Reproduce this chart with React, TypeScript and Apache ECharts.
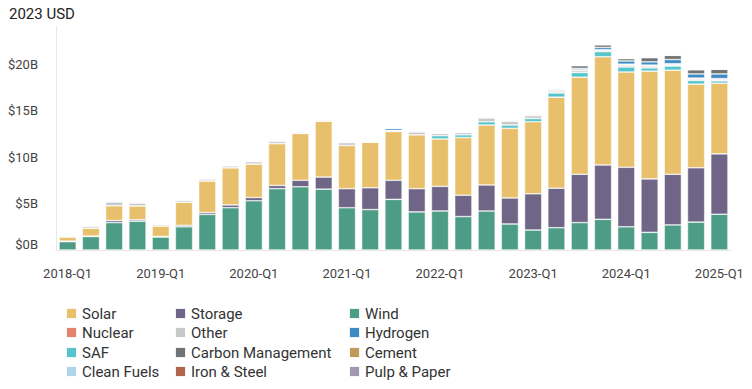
import React, { useEffect, useRef } from "react";
import * as echarts from "echarts";

const quarters = [
  "2018-Q1","2018-Q2","2018-Q3","2018-Q4",
  "2019-Q1","2019-Q2","2019-Q3","2019-Q4",
  "2020-Q1","2020-Q2","2020-Q3","2020-Q4",
  "2021-Q1","2021-Q2","2021-Q3","2021-Q4",
  "2022-Q1","2022-Q2","2022-Q3","2022-Q4",
  "2023-Q1","2023-Q2","2023-Q3","2023-Q4",
  "2024-Q1","2024-Q2","2024-Q3","2024-Q4",
  "2025-Q1",
];

const yTicks = [0, 5, 10, 15, 20];

const wind = [0.9,1.45,2.95,3.1,1.4,2.5,3.83,4.55,5.3,6.6,6.8,6.55,4.55,4.35,5.45,4.1,4.2,3.6,4.2,2.8,2.15,2.4,2.95,3.3,2.5,1.9,2.7,3.0,3.85];
const storage = [0.05,0.05,0.22,0.15,0.06,0.15,0.2,0.3,0.35,0.35,0.7,1.3,2.05,2.35,2.05,2.5,2.65,2.3,2.8,2.8,3.9,4.25,5.2,5.85,6.4,5.75,5.45,5.85,6.5];
const solar = [0.45,0.85,1.6,1.5,1.12,2.5,3.4,4.0,3.6,4.5,5.05,6.0,4.65,4.9,5.25,5.8,5.1,6.2,6.45,7.5,7.75,9.8,10.45,11.65,10.25,11.6,11.2,9.0,7.6];
const saf = [0,0,0,0,0,0,0,0,0,0,0,0,0,0,0,0,0.35,0.3,0.35,0.35,0.35,0.45,0.5,0.55,0.55,0.35,0.45,0.4,0.25];
const other = [0.1,0.2,0.4,0.3,0.15,0.2,0.2,0.2,0.25,0.25,0.12,0.1,0.3,0.08,0.1,0.3,0.25,0.25,0.4,0.4,0.3,0.15,0.2,0.15,0.15,0.15,0.1,0.1,0.1];
const nuclear = [0.05,0.08,0.1,0.1,0.07,0.1,0.08,0.06,0.07,0.1,0.05,0.07,0.08,0.03,0.03,0.07,0.05,0.05,0.1,0.1,0.1,0.1,0.1,0.05,0.1,0.1,0.1,0.1,0.1];
const cleanFuels = [0,0,0,0,0,0,0,0,0,0,0,0,0,0,0,0.05,0,0,0.05,0,0,0,0,0,0.05,0.05,0.05,0.05,0.05];
const hydrogen = [0,0,0,0,0,0,0,0,0,0,0,0,0,0.1,0.25,0.05,0.05,0.05,0.05,0.05,0.05,0.1,0.15,0.25,0.35,0.35,0.45,0.45,0.5];
const carbonManagement = [0,0,0,0,0,0,0,0,0,0,0,0,0,0,0,0,0,0,0,0.05,0.05,0.1,0.3,0.3,0.25,0.45,0.45,0.45,0.5];
const cement = [0,0,0,0,0,0,0,0,0,0,0,0,0,0,0,0,0,0,0,0,0,0,0,0,0.02,0.02,0.02,0.02,0.02];
const ironSteel = [0,0,0,0,0,0,0,0,0,0,0,0,0,0,0,0,0,0,0,0,0,0,0,0,0.02,0.02,0.02,0.02,0.02];
const pulpPaper = [0,0,0,0,0,0,0,0,0,0,0,0,0,0,0,0,0,0,0,0,0,0,0,0,0.02,0.02,0.02,0.02,0.02];

const stackOrder = [
  { name: "Wind", data: wind, color: "#4C9C86" },
  { name: "Storage", data: storage, color: "#6E6587" },
  { name: "Solar", data: solar, color: "#E8BF6A" },
  { name: "SAF", data: saf, color: "#55C4CC" },
  { name: "Other", data: other, color: "#C8C8C8" },
  { name: "Nuclear", data: nuclear, color: "#E2836A" },
  { name: "Clean Fuels", data: cleanFuels, color: "#AED4EA" },
  { name: "Hydrogen", data: hydrogen, color: "#3E8AC4" },
  { name: "Carbon Management", data: carbonManagement, color: "#6F7473" },
  { name: "Cement", data: cement, color: "#BF9A5A" },
  { name: "Iron & Steel", data: ironSteel, color: "#B0654C" },
  { name: "Pulp & Paper", data: pulpPaper, color: "#9F98B0" },
];

const legendRows = [
  ["Solar", "Storage", "Wind"],
  ["Nuclear", "Other", "Hydrogen"],
  ["SAF", "Carbon Management", "Cement"],
  ["Clean Fuels", "Iron & Steel", "Pulp & Paper"],
];

export default function App() {
  const ref = useRef<HTMLDivElement>(null);
  useEffect(() => {
    if (!ref.current) return;
    document.body.style.margin = "0";
    const chart = echarts.init(ref.current, null, { renderer: "svg" });
    const colX = [65, 174, 348];
    const rowY = [306, 325, 345, 364];
    const legends: any[] = [];
    legendRows.forEach((row, r) =>
      row.forEach((name, c) => {
        legends.push({
          data: [name],
          left: colX[c],
          top: rowY[r],
          padding: 0,
          icon: "rect",
          itemWidth: 11,
          itemHeight: 11,
          itemGap: 6,
          textStyle: { fontSize: 15, color: "#333", fontFamily: "Roboto" },
        });
      })
    );
    chart.setOption({
      animation: false,
      textStyle: { fontFamily: "Roboto" },
      title: {
        text: "2023 USD",
        left: 4,
        top: 1,
        textStyle: { fontSize: 15, fontWeight: "normal", color: "#222", fontFamily: "Roboto" },
      },
      legend: legends,
      grid: { left: 56, right: 21, top: 27, bottom: 139, containLabel: false },
      xAxis: {
        type: "category",
        data: quarters,
        axisTick: { show: false },
        axisLine: { lineStyle: { color: "#E6E6EE" } },
        axisLabel: { interval: 3, fontSize: 13, color: "#444", margin: 17, fontFamily: "Roboto" },
      },
      yAxis: {
        type: "value",
        min: 0,
        max: 24,
        interval: 5,
        splitLine: { show: false },
        axisLine: { show: true, lineStyle: { color: "#E6E6EE" } },
        axisTick: { show: false },
        axisLabel: {
          showMaxLabel: false,
          fontSize: 13,
          color: "#444",
          margin: 18,
          fontFamily: "Roboto",
          formatter: (v: number) => (v === 0 ? "{z|$0B}" : "$" + v + "B"),
          rich: { z: { fontSize: 13, color: "#444", padding: [0, 0, 12, 0], fontFamily: "Roboto" } },
        },
      },
      series: stackOrder.map((s) => ({
        name: s.name,
        type: "bar",
        stack: "total",
        data: s.data,
        barCategoryGap: "26%",
        itemStyle: { color: s.color, borderColor: "rgba(255,255,255,0.9)", borderWidth: 0.6 },
        emphasis: { disabled: true },
      })),
    });
    return () => chart.dispose();
  }, []);
  return <div ref={ref} style={{ width: 752, height: 389 }} />;
}
